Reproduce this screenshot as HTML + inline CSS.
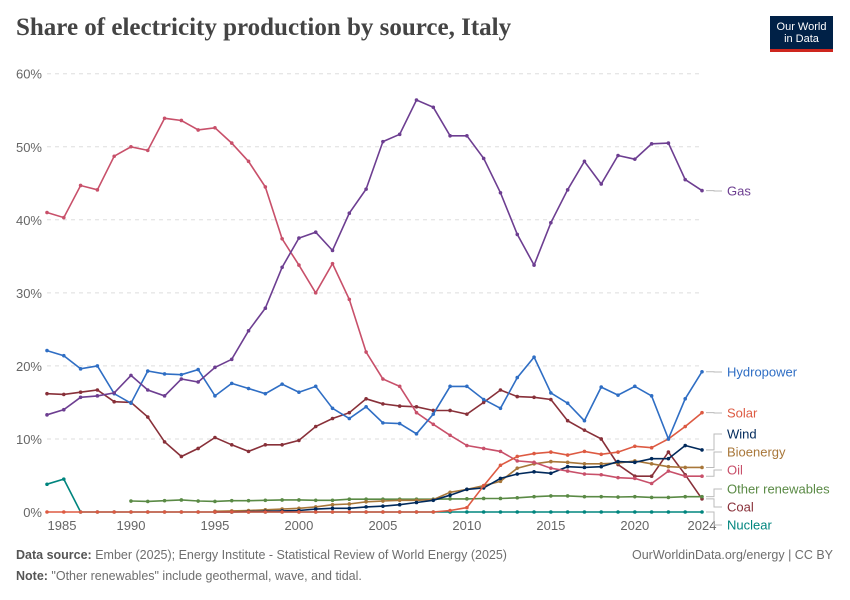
<!DOCTYPE html>
<html><head><meta charset="utf-8">
<style>
body{margin:0;background:#fff;font-family:"Liberation Sans",sans-serif;}
#wrap{position:relative;width:850px;height:600px;overflow:hidden;}
.title{position:absolute;left:16px;top:14px;font-family:"Liberation Serif",serif;font-weight:bold;font-size:25px;color:#444;}
.logo{position:absolute;left:770px;top:16px;width:63px;height:36px;background:#002147;color:#fff;font-size:11px;line-height:12px;text-align:center;padding-top:5px;box-sizing:border-box;border-bottom:3px solid #ce261e;}
.foot{position:absolute;left:16px;font-size:12.5px;color:#6e6e6e;}
.foot b{color:#555;font-weight:bold;}
</style></head><body>
<div id="wrap">
<div class="title">Share of electricity production by source, Italy</div>
<div class="logo">Our World<br>in Data</div>
<svg id="chart" width="850" height="600" style="position:absolute;left:0;top:0"></svg>
<div class="foot" style="top:548px"><b>Data source:</b> Ember (2025); Energy Institute - Statistical Review of World Energy (2025)</div>
<div class="foot" style="top:548px;left:auto;right:17px">OurWorldinData.org/energy | CC BY</div>
<div class="foot" style="top:569px"><b>Note:</b> "Other renewables" include geothermal, wave, and tidal.</div>
</div>
<script>
const years=[];for(let y=1985;y<=2024;y++)years.push(y);
const yTicks=[0,10,20,30,40,50,60];
const xTicks=[1985,1990,1995,2000,2005,2010,2015,2020,2024];
const gas=[13.3,14.0,15.7,15.9,16.3,18.7,16.7,15.9,18.2,17.8,19.8,20.9,24.8,27.9,33.5,37.5,38.3,35.8,40.9,44.2,50.7,51.7,56.4,55.4,51.5,51.5,48.4,43.7,38.0,33.8,39.6,44.1,48.0,44.9,48.8,48.3,50.4,50.5,45.5,44.0];
const oil=[41.0,40.3,44.7,44.1,48.7,50.0,49.5,53.9,53.6,52.3,52.6,50.5,48.0,44.5,37.4,33.8,30.0,34.0,29.1,21.9,18.2,17.2,13.6,12.0,10.5,9.1,8.7,8.3,7.0,6.8,6.0,5.6,5.2,5.1,4.7,4.6,3.9,5.6,4.9,4.9];
const hydro=[22.1,21.4,19.6,20.0,16.2,14.9,19.3,18.9,18.8,19.5,15.9,17.6,16.9,16.2,17.5,16.4,17.2,14.2,12.8,14.4,12.2,12.1,10.7,13.4,17.2,17.2,15.4,14.2,18.4,21.2,16.3,14.9,12.5,17.1,16.0,17.2,15.9,10.0,15.5,19.2];
const coal=[16.2,16.1,16.4,16.7,15.1,15.0,13.0,9.6,7.6,8.7,10.2,9.2,8.3,9.2,9.2,9.8,11.7,12.8,13.6,15.5,14.8,14.5,14.4,13.9,13.9,13.4,15.0,16.7,15.8,15.7,15.4,12.5,11.2,10.0,6.5,4.9,4.9,8.2,5.1,1.8];
const solar=[0,0,0,0,0,0,0,0,0,0,0,0,0,0,0,0,0,0,0,0,0,0,0,0,0.2,0.6,3.6,6.4,7.6,8.0,8.2,7.8,8.3,7.9,8.2,9.0,8.8,10.0,11.7,13.6];
const wind=[null,null,null,null,null,null,null,null,null,null,0,0,0.05,0.1,0.15,0.2,0.4,0.5,0.5,0.7,0.8,1.0,1.3,1.6,2.3,3.1,3.3,4.6,5.2,5.5,5.3,6.2,6.1,6.2,6.9,6.8,7.3,7.3,9.1,8.5];
const bio=[null,null,null,null,null,null,null,null,null,null,0.1,0.15,0.2,0.3,0.4,0.5,0.7,1.0,1.1,1.4,1.5,1.6,1.6,1.7,2.7,3.1,3.6,4.2,6.0,6.6,6.9,6.8,6.6,6.6,6.7,7.0,6.6,6.2,6.1,6.1];
const other=[null,null,null,null,null,1.5,1.45,1.55,1.65,1.5,1.45,1.55,1.55,1.6,1.65,1.65,1.6,1.6,1.75,1.75,1.75,1.75,1.75,1.75,1.8,1.8,1.85,1.85,1.95,2.1,2.2,2.2,2.1,2.1,2.05,2.1,2.0,2.0,2.1,2.1];
const nuclear=[3.8,4.5,0,0,0,0,0,0,0,0,0,0,0,0,0,0,0,0,0,0,0,0,0,0,0,0,0,0,0,0,0,0,0,0,0,0,0,0,0,0];
const seriesNames=["Gas","Hydropower","Solar","Wind","Bioenergy","Oil","Other renewables","Coal","Nuclear"];
const seriesData=[gas,hydro,solar,wind,bio,oil,other,coal,nuclear];
const colors=["#6d3e91","#2f6ec4","#dd5a42","#00295b","#a8773a","#c8506a","#5a8a45","#883039","#00857e"];
const labelY=[191,372,413,434,452,470,489,507,525];
const drawOrder=[8,7,6,4,3,5,2,1,0];
const X=y=>47+(y-1985)*16.795;
const Y=v=>512-v*7.305;
const svg=document.getElementById('chart');const NS="http://www.w3.org/2000/svg";
function mk(t,a){const e=document.createElementNS(NS,t);for(const k in a)e.setAttribute(k,a[k]);svg.appendChild(e);return e;}
yTicks.forEach(t=>{
 if(t>0){const l=mk('line',{x1:47,x2:702,y1:Y(t),y2:Y(t),stroke:'#ddd','stroke-dasharray':'4,4'});
 
 }
 const tx=mk('text',{x:42,y:Y(t)+5,'text-anchor':'end','font-size':13,fill:'#666','font-family':'Liberation Sans'});tx.textContent=t+'%';
 
 
});
xTicks.forEach(t=>{
 const xx=t===1985?X(t)+15:X(t);
 const tx=mk('text',{x:xx,y:530,'text-anchor':'middle','font-size':13,fill:'#666','font-family':'Liberation Sans'});tx.textContent=t;
 
 
});
drawOrder.forEach(i=>{
 const d=seriesData[i];let p='';let started=false;
 d.forEach((v,j)=>{if(v===null)return;p+=(started?'L':'M')+X(years[j]).toFixed(1)+','+Y(v).toFixed(1);started=true;});
 const path=mk('path',{d:p,fill:'none',stroke:colors[i],'stroke-width':1.6});
 
 
 d.forEach((v,j)=>{if(v===null)return;const c=mk('circle',{cx:X(years[j]),cy:Y(v),r:1.8,fill:colors[i]});
 
 });
});
seriesNames.forEach((n,i)=>{
 const d=seriesData[i];const ly=Y(d[d.length-1]);const ty=labelY[i];
 const c=mk('path',{d:`M706,${ly}H714V${ty}H722`,fill:'none',stroke:'#bbb','stroke-width':1});
 
 
 const t=mk('text',{x:727,y:ty+4.5,'font-size':13,fill:colors[i],'font-family':'Liberation Sans'});t.textContent=n;
 
 
});
</script>
</body></html>
